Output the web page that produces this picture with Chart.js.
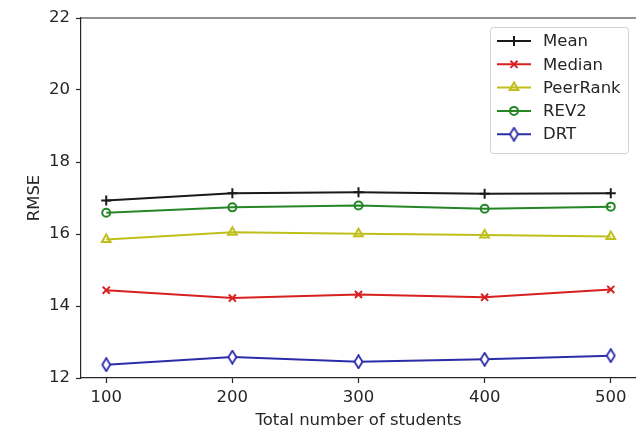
<!DOCTYPE html>
<html>
<head>
<meta charset="utf-8">
<script src="https://cdn.jsdelivr.net/npm/chart.js@4/dist/chart.umd.min.js"></script>
<style>
    html, body { margin: 0; padding: 0; background: #fff; }
    #wrap { width: 636px; height: 427px; }
</style>
</head>
<body>
<div id="wrap"><canvas id="chart"></canvas></div>
<script>
const students = [100, 200, 300, 400, 500];
const meanRmse = [16.93, 17.13, 17.16, 17.12, 17.13];
const medianRmse = [14.44, 14.22, 14.32, 14.24, 14.46];
const peerRankRmse = [15.85, 16.05, 16.01, 15.97, 15.93];
const rev2Rmse = [16.59, 16.74, 16.79, 16.70, 16.76];
const drtRmse = [12.37, 12.58, 12.45, 12.52, 12.62];
const xTicks = [100, 200, 300, 400, 500];
const yTicks = [12, 14, 16, 18, 20, 22];

const font = { family: 'DejaVu Sans', size: 16.5 };
const ink = '#262626';

// matplotlib 'd' marker (thin diamond), chart.js has no such style
function thinDiamond(color) {
    const c = document.createElement('canvas');
    c.width = 11; c.height = 15;
    const g = c.getContext('2d');
    g.beginPath();
    g.moveTo(5.5, 1); g.lineTo(9.5, 7.5); g.lineTo(5.5, 14); g.lineTo(1.5, 7.5);
    g.closePath();
    g.fillStyle = '#fff';
    g.fill();
    g.lineWidth = 1.8;
    g.strokeStyle = color;
    g.stroke();
    return c;
}

function series(label, values, color, pointStyle, radius) {
    return {
        label: label,
        data: values.map((v, i) => ({ x: students[i], y: v })),
        borderColor: color,
        backgroundColor: '#fff',
        pointBorderColor: color,
        pointBackgroundColor: 'rgba(255,255,255,0)',
        borderWidth: 2,
        pointBorderWidth: 2,
        pointStyle: pointStyle,
        pointRadius: radius,
        tension: 0
    };
}

const datasets = [
    series('Mean', meanRmse, '#1a1a1a', 'cross', 5),
    series('Median', medianRmse, '#d82020', 'crossRot', 5),
    series('PeerRank', peerRankRmse, '#bfbf1c', 'triangle', 5),
    series('REV2', rev2Rmse, '#258625', 'circle', 4),
    series('DRT', drtRmse, '#2c2ca8', thinDiamond('#2c2ca8'), 6)
];

// top spine + legend box like matplotlib
const frame = {
    id: 'frame',
    afterDraw(chart) {
        const ctx = chart.ctx;
        const a = chart.chartArea;
        ctx.save();
        ctx.strokeStyle = ink;
        ctx.lineWidth = 1.2;
        ctx.beginPath();
        ctx.moveTo(a.left, a.top);
        ctx.lineTo(a.right + 2, a.top);
        ctx.stroke();

        const bx = 490, by = 27, bw = 138, bh = 126;
        ctx.beginPath();
        ctx.roundRect(bx + 0.5, by + 0.5, bw, bh, 3);
        ctx.fillStyle = 'rgba(255,255,255,0.85)';
        ctx.fill();
        ctx.strokeStyle = '#d0d0d0';
        ctx.lineWidth = 1;
        ctx.stroke();

        chart.data.datasets.forEach((ds, i) => {
            const yy = 41 + i * 23.3;
            ctx.strokeStyle = ds.borderColor;
            ctx.lineWidth = ds.borderWidth;
            ctx.beginPath();
            ctx.moveTo(497, yy);
            ctx.lineTo(531, yy);
            ctx.stroke();
            ctx.fillStyle = ds.pointBackgroundColor;
            ctx.strokeStyle = ds.pointBorderColor;
            ctx.lineWidth = ds.pointBorderWidth;
            Chart.helpers.drawPoint(ctx, {
                pointStyle: ds.pointStyle,
                radius: ds.pointRadius,
                rotation: 0,
                borderWidth: ds.pointBorderWidth
            }, 514, yy);
            ctx.fillStyle = ink;
            ctx.font = '16.5px "DejaVu Sans"';
            ctx.textAlign = 'left';
            ctx.textBaseline = 'middle';
            ctx.fillText(ds.label, 543, yy + 1);
        });
        ctx.restore();
    }
};

new Chart(document.getElementById('chart'), {
    type: 'line',
    data: { datasets: datasets },
    options: {
        responsive: true,
        maintainAspectRatio: false,
        animation: false,
        layout: { autoPadding: false, padding: { top: 18, right: 0, left: 0, bottom: 0 } },
        plugins: {
            legend: { display: false },
            tooltip: { enabled: false }
        },
        scales: {
            x: {
                type: 'linear',
                min: 80,
                max: 520,
                afterBuildTicks: axis => { axis.ticks = xTicks.map(v => ({ value: v })); },
                afterFit: scale => {
                    scale.height = 49;
                    scale.paddingLeft = 0;
                    scale.paddingRight = 0;
                },
                grid: { drawOnChartArea: false, drawTicks: true, tickLength: 5, tickColor: ink, tickWidth: 1.2 },
                border: { color: ink, width: 1.2 },
                ticks: { font: font, color: ink, padding: 5, maxRotation: 0 },
                title: { display: true, text: 'Total number of students', font: font, color: ink, padding: { top: 0, bottom: -4 } }
            },
            y: {
                min: 12,
                max: 22,
                afterBuildTicks: axis => { axis.ticks = yTicks.map(v => ({ value: v })); },
                afterFit: scale => { scale.width = 81; },
                grid: { drawOnChartArea: false, drawTicks: true, tickLength: 5, tickColor: ink, tickWidth: 1.2 },
                border: { color: ink, width: 1.2 },
                ticks: { font: font, color: ink, padding: 6 },
                title: { display: true, text: 'RMSE', font: font, color: ink, padding: { top: 25, bottom: 0 } }
            }
        }
    },
    plugins: [frame]
});
</script>
</body>
</html>
